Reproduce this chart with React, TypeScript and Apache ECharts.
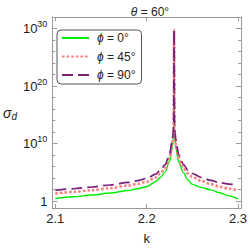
import React, { useEffect, useRef } from 'react';
import * as echarts from 'echarts';

// k values (x) and log10(sigma_d) for each series
const kValues = [2.1, 2.12, 2.14, 2.16, 2.18, 2.19, 2.2, 2.21, 2.215, 2.22, 2.225, 2.228, 2.229, 2.2295, 2.23, 2.2305, 2.231, 2.232, 2.235, 2.24, 2.245, 2.25, 2.26, 2.27, 2.28, 2.29, 2.3];
const phi0Log10 = [0.45, 0.75, 1.05, 1.4, 1.85, 2.15, 2.5, 3.4, 4.1, 5.0, 6.9, 9.2, 10.6, 12, 29.7, 12, 10.6, 9.2, 6.8, 5.0, 3.7, 2.9, 2.35, 1.95, 1.45, 0.9, 0.35];
const phi45Log10 = [1.3, 1.6, 1.9, 2.25, 2.7, 3.0, 3.35, 4.1, 4.8, 5.7, 7.5, 9.9, 11.3, 12.8, 29.7, 12.8, 11.3, 9.9, 7.5, 5.8, 4.8, 4.2, 3.5, 2.95, 2.5, 2.15, 1.85];
const phi90Log10 = [1.85, 2.15, 2.45, 2.8, 3.25, 3.55, 3.95, 4.7, 5.4, 6.3, 8.1, 10.5, 11.9, 13.4, 29.7, 13.4, 11.9, 10.5, 8.1, 6.4, 5.4, 4.8, 4.1, 3.6, 3.2, 2.95, 2.75];
const seriesNames = ['ϕ = 0°', 'ϕ = 45°', 'ϕ = 90°'];
const xTicks = [2.1, 2.2, 2.3];
const yMajorTicks = [0, 10, 20, 30];
const yMinorTicks = [2, 4, 6, 8, 12, 14, 16, 18, 22, 24, 26, 28];

const FONT = '"Liberation Sans", Arial, sans-serif';
const FRAME = '#9a9a9a';
const TXT = '#222';

export default function App() {
  const ref = useRef<HTMLDivElement>(null);
  useEffect(() => {
    if (!ref.current) return;
    const chart = echarts.init(ref.current, undefined, { renderer: 'svg' });
    const toPairs = (vals: number[]) => kValues.map((k, i) => [k, vals[i]]);
    const xMin = 2.0968, xMax = 2.3032, yMin = -1.2, yMax = 32;
    const baseY = (position: string, ticks: number[], len: number, labels: boolean) => ({
      type: 'value', min: yMin, max: yMax, position, gridIndex: 0,
      axisLine: { show: true, onZero: false, lineStyle: { color: FRAME, width: 1 } },
      axisTick: { show: true, inside: true, length: len, customValues: ticks, lineStyle: { color: FRAME } },
      splitLine: { show: false },
      axisLabel: labels ? {
        show: true, customValues: ticks, margin: 5, color: TXT, fontFamily: FONT, fontSize: 13,
        formatter: (v: number) => (v === 0 ? '{n|1}' : '{n|10}{s|' + v + '}'),
        rich: {
          n: { fontSize: 13, fontFamily: FONT, color: TXT },
          s: { fontSize: 9, fontFamily: FONT, color: TXT, padding: [0, 0, 9, 0] },
        },
      } : { show: false },
    });
    const baseX = (position: string, labels: boolean) => ({
      type: 'value', min: xMin, max: xMax, position, gridIndex: 0,
      axisLine: { show: true, onZero: false, lineStyle: { color: FRAME, width: 1 } },
      axisTick: { show: true, inside: true, length: 4, customValues: xTicks, lineStyle: { color: FRAME } },
      splitLine: { show: false },
      axisLabel: labels ? {
        show: true, customValues: xTicks, margin: 4, color: TXT, fontFamily: FONT, fontSize: 13,
        formatter: (v: number) => v.toFixed(1),
      } : { show: false },
    });
    const option: any = {
      animation: false,
      backgroundColor: '#fff',
      title: {
        text: '{i|θ} = 60°', left: 145, top: 1, textAlign: 'center',
        textStyle: {
          fontSize: 12, fontWeight: 'normal', color: TXT, fontFamily: FONT,
          rich: { i: { fontStyle: 'italic', fontSize: 12, color: TXT, fontFamily: FONT } },
        },
      },
      grid: { left: 47, right: 7, top: 17, bottom: 36, containLabel: false },
      xAxis: [
        { ...baseX('bottom', true), name: 'k', nameLocation: 'middle', nameGap: 24, nameTextStyle: { fontSize: 13, color: TXT, fontFamily: FONT } },
        baseX('top', false),
      ],
      yAxis: [
        {
          ...baseY('left', yMajorTicks, 5, true),
          name: '{a|σ}{b|d}', nameLocation: 'middle', nameRotate: 0, nameGap: 35,
          nameTextStyle: {
            color: TXT, fontFamily: FONT,
            rich: {
              a: { fontStyle: 'italic', fontSize: 14, color: TXT, fontFamily: FONT },
              b: { fontStyle: 'italic', fontSize: 10, color: TXT, fontFamily: FONT, padding: [7, 0, 0, 0] },
            },
          },
        },
        baseY('left', yMinorTicks, 3, false),
        baseY('right', yMajorTicks, 5, false),
        baseY('right', yMinorTicks, 3, false),
      ],
      legend: {
        orient: 'vertical', left: 57, top: 30, padding: [2, 6, 3, 4],
        itemWidth: 27, itemHeight: 14, itemGap: 6.5,
        borderColor: '#555', borderWidth: 1, borderRadius: 4, backgroundColor: '#fff',
        data: seriesNames,
        itemStyle: { opacity: 0 },
        textStyle: {
          fontSize: 12, color: TXT, fontFamily: FONT, padding: [0, 0, 0, 3],
          rich: { i: { fontStyle: 'italic', fontSize: 12, color: TXT, fontFamily: FONT } },
        },
        formatter: (name: string) => name.replace('ϕ', '{i|ϕ}'),
      },
      series: [
        {
          name: seriesNames[0], type: 'line', xAxisIndex: 0, yAxisIndex: 0, symbol: 'none', showSymbol: false,
          smooth: 0.3, smoothMonotone: 'x',
          data: toPairs(phi0Log10), lineStyle: { color: '#00ee00', width: 1.4 }, itemStyle: { color: '#00ee00' }, z: 2,
        },
        {
          name: seriesNames[1], type: 'line', xAxisIndex: 0, yAxisIndex: 0, symbol: 'none', showSymbol: false,
          smooth: 0.3, smoothMonotone: 'x',
          data: toPairs(phi45Log10), lineStyle: { color: '#ff8080', width: 2.6, type: [2.6, 2], cap: 'butt' }, itemStyle: { color: '#ff8080' }, z: 3,
        },
        {
          name: seriesNames[2], type: 'line', xAxisIndex: 0, yAxisIndex: 0, symbol: 'none', showSymbol: false,
          smooth: 0.3, smoothMonotone: 'x',
          data: toPairs(phi90Log10), lineStyle: { color: '#7a1f7a', width: 1.7, type: [11, 5] }, itemStyle: { color: '#7a1f7a' }, z: 4,
        },
      ],
    };
    chart.setOption(option);
    return () => chart.dispose();
  }, []);
  return <div ref={ref} style={{ position: 'fixed', left: 0, top: 0, width: 250, height: 250 }} />;
}
